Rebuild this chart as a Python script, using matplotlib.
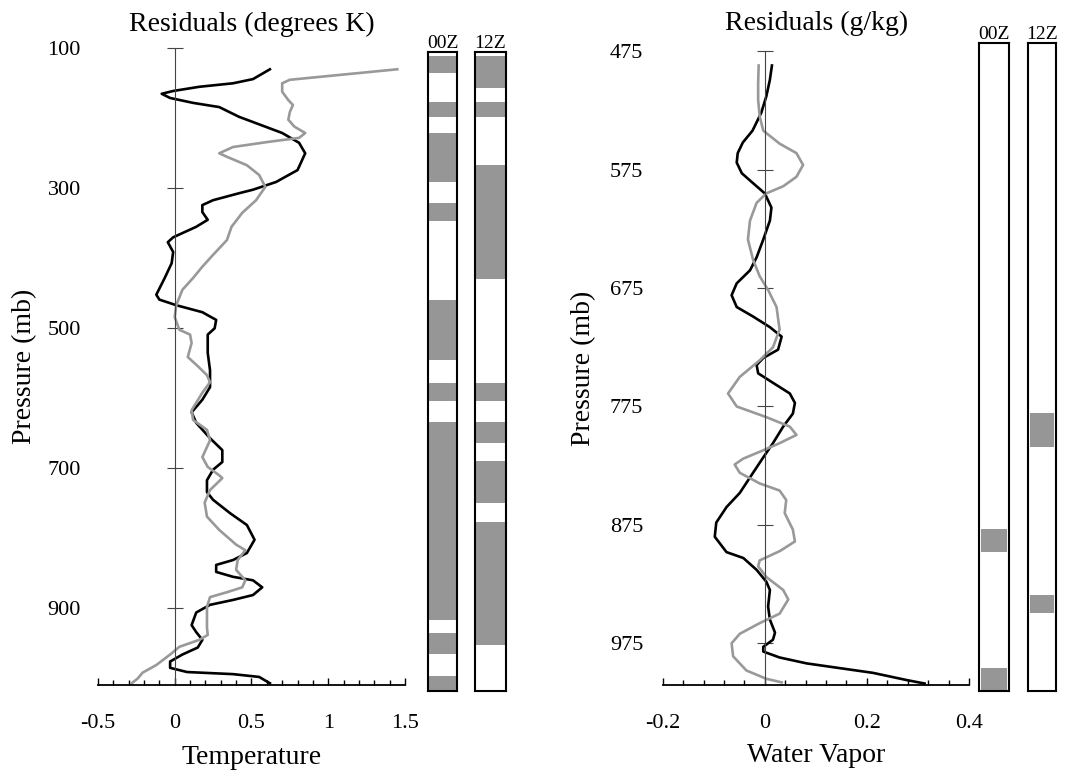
import matplotlib
matplotlib.use('Agg')
import matplotlib.pyplot as plt
from matplotlib.ticker import MultipleLocator, FuncFormatter

plt.rcParams['font.family'] = ['Liberation Serif', 'DejaVu Serif']
plt.rcParams['axes.unicode_minus'] = False

# temperature residual profiles (x = residual K, p = pressure mb)
t_black_x = [0.62, 0.51, 0.38, 0.16, -0.01, -0.085, -0.03, 0.12, 0.29, 0.42, 0.53, 0.70, 0.81, 0.85, 0.80,
             0.66, 0.51, 0.42, 0.25, 0.18, 0.18, 0.215, 0.14, -0.01, -0.045, -0.01, -0.02, -0.065, -0.12, -0.10,
             0.01, 0.18, 0.27, 0.26, 0.215, 0.215, 0.23, 0.23, 0.18, 0.11, 0.14, 0.23, 0.31, 0.31, 0.25,
             0.21, 0.21, 0.25, 0.36, 0.47, 0.52, 0.47, 0.38, 0.27, 0.27, 0.38, 0.51, 0.57, 0.51, 0.38,
             0.23, 0.14, 0.11, 0.14, 0.18, 0.15, 0.05, -0.03, -0.03, 0.08, 0.38, 0.55, 0.62]
t_black_p = [131, 145, 151, 156, 162, 166, 172, 179, 185, 199, 208, 222, 236, 251, 275,
             292, 303, 308, 318, 325, 335, 346, 356, 371, 378, 392, 408, 429, 453, 460,
             468, 478, 489, 501, 510, 536, 561, 585, 603, 621, 636, 658, 675, 692, 703,
             718, 735, 746, 765, 782, 803, 822, 832, 839, 849, 856, 861, 871, 882, 889,
             896, 907, 925, 935, 946, 957, 967, 977, 986, 992, 995, 999, 1008]

t_gray_x = [1.45, 0.75, 0.70, 0.70, 0.74, 0.77, 0.75, 0.74, 0.78, 0.85, 0.81, 0.60, 0.38, 0.29, 0.34,
            0.47, 0.55, 0.59, 0.53, 0.44, 0.37, 0.34, 0.25, 0.18, 0.12, 0.05, 0.01, 0.0, 0.03, 0.10,
            0.11, 0.085, 0.15, 0.21, 0.23, 0.18, 0.11, 0.12, 0.21, 0.23, 0.18, 0.215, 0.29, 0.31, 0.23,
            0.195, 0.21, 0.29, 0.40, 0.46, 0.41, 0.40, 0.46, 0.44, 0.34, 0.23, 0.21, 0.21, 0.215, 0.16,
            0.03, -0.03, -0.12, -0.21, -0.24, -0.28]
t_gray_p = [131, 146, 151, 163, 175, 182, 192, 203, 213, 222, 229, 235, 242, 251, 256,
            268, 282, 299, 318, 336, 356, 375, 396, 413, 429, 446, 468, 485, 503, 510,
            522, 542, 555, 568, 578, 593, 618, 632, 646, 661, 685, 699, 711, 715, 732,
            750, 770, 789, 810, 818, 832, 846, 861, 871, 878, 885, 899, 928, 939, 946,
            956, 967, 982, 993, 1001, 1008]

# water vapour residual profiles (x = residual g/kg, p = pressure mb)
q_black_x = [0.014, 0.010, 0.003, -0.007, -0.024, -0.043, -0.053, -0.055, -0.045, -0.024, 0.0, 0.013, 0.010,
             -0.003, -0.016, -0.029, -0.055, -0.065, -0.055, -0.023, 0.010, 0.033, 0.026, -0.003, -0.016,
             -0.013, 0.016, 0.049, 0.059, 0.055, 0.036, 0.016, -0.003, -0.023, -0.049, -0.075, -0.095,
             -0.098, -0.075, -0.042, -0.016, 0.003, 0.010, 0.0065, 0.010, 0.020, 0.016, -0.003, -0.003,
             0.029, 0.082, 0.147, 0.212, 0.277, 0.313]
q_black_p = [487, 499, 513, 527, 542, 552, 561, 569, 578, 586, 595, 607, 618,
             634, 649, 660, 671, 681, 691, 699, 708, 716, 727, 734, 740,
             747, 755, 764, 772, 781, 792, 806, 818, 831, 848, 860, 873,
             885, 898, 903, 913, 923, 930, 944, 955, 966, 972, 978, 982,
             987, 992, 996, 1000, 1006, 1009]

q_gray_x = [-0.012, -0.013, -0.013, -0.010, -0.003, 0.029, 0.062, 0.075, 0.062, 0.036, 0.003, -0.016, -0.029,
            -0.033, -0.023, -0.010, 0.007, 0.023, 0.029, 0.016, -0.010, -0.049, -0.072, -0.055, 0.003,
            0.049, 0.062, 0.029, -0.003, -0.042, -0.059, -0.049, -0.010, 0.029, 0.042, 0.039, 0.055,
            0.059, 0.030, -0.010, -0.013, 0.003, 0.036, 0.046, 0.029, -0.010, -0.049, -0.065, -0.062,
            -0.036, 0.003, 0.033]
q_gray_p = [487, 502, 516, 530, 542, 553, 561, 571, 581, 589, 595, 603, 618,
            634, 651, 665, 677, 691, 710, 725, 736, 750, 764, 775, 784,
            792, 799, 806, 812, 819, 824, 831, 840, 846, 854, 865, 879,
            889, 897, 905, 910, 919, 930, 938, 950, 958, 967, 975, 986,
            998, 1005, 1008]

# shaded pressure ranges of the 00Z / 12Z columns
temp_00z = [(111, 136), (178, 199), (222, 292), (322, 348), (461, 546), (579, 605), (635, 918), (936, 966), (998, 1019)]
temp_12z = [(111, 158), (178, 199), (268, 431), (579, 605), (635, 665), (691, 751), (778, 953)]
vap_00z = [(878, 898), (996, 1015)]
vap_12z = [(780, 809), (934, 949)]

temp_yticks = [100, 300, 500, 700, 900]
vap_yticks = [475, 575, 675, 775, 875, 975]

fig = plt.figure(figsize=(10.91, 7.75), dpi=100)


def fmt(v, pos):
    return '%g' % (round(v, 3) + 0.0)


def profile_axes(rect, xlim, ylim, yticks, xmajor, xminor, ypad, ylab_x, xlab_xy):
    ax = fig.add_axes(rect)
    ax.set_xlim(*xlim)
    ax.set_ylim(*ylim)
    ax.spines['top'].set_visible(False)
    ax.spines['right'].set_visible(False)
    ax.spines['left'].set_position(('data', 0))
    ax.spines['left'].set_linewidth(0.8)
    ax.spines['left'].set_color('#444444')
    ax.spines['bottom'].set_linewidth(1.3)
    ax.set_yticks(yticks)
    ax.tick_params(axis='y', direction='inout', length=11, width=0.8, color='#444444',
                   labelcolor='black', pad=ypad, labelsize=16)
    ax.xaxis.set_major_locator(MultipleLocator(xmajor))
    ax.xaxis.set_minor_locator(MultipleLocator(xminor))
    ax.xaxis.set_major_formatter(FuncFormatter(fmt))
    ax.tick_params(axis='x', which='major', direction='in', length=5, width=1, pad=21, labelsize=16)
    ax.tick_params(axis='x', which='minor', direction='in', length=3.5, width=1)
    ax.set_ylabel('Pressure (mb)', fontsize=20, va='center')
    ax.yaxis.set_label_coords(ylab_x, 0.5)
    ax.xaxis.set_label_coords(*xlab_xy)
    return ax


def bar_axes(rect, ylim, spans, inset):
    ax = fig.add_axes(rect)
    ax.set_xlim(0, 1)
    ax.set_ylim(*ylim)
    ax.set_xticks([])
    ax.set_yticks([])
    for s in ax.spines.values():
        s.set_linewidth(1.5)
    for a, b in spans:
        ax.axhspan(a, b, xmin=inset, xmax=1 - inset, color='#969696', lw=0)
    return ax


# temperature panel
ax1 = profile_axes([0.0898, 0.1166, 0.2814, 0.822], (-0.5, 1.5), (1010, 100), temp_yticks,
                   0.5, 0.1, 62, -0.238, (0.508, -0.1137))
ax1.plot(t_black_x, t_black_p, color='black', lw=1.9, solid_joinstyle='round')
ax1.plot(t_gray_x, t_gray_p, color='#999999', lw=1.9, solid_joinstyle='round')
ax1.set_xlabel('Temperature', fontsize=20, va='center')
fig.text(0.2305, 0.969, 'Residuals (degrees K)', fontsize=20, ha='center', va='center')

b1 = bar_axes([0.3923, 0.1084, 0.0266, 0.8245], (1019, 106), temp_00z, 0.0)
b1.set_title('00Z', fontsize=14, pad=1)
b2 = bar_axes([0.4354, 0.1084, 0.0284, 0.8245], (1019, 106), temp_12z, 0.0)
b2.set_title('12Z', fontsize=14, pad=1)

# water vapour panel
ax2 = profile_axes([0.6074, 0.1165, 0.2808, 0.8173], (-0.2, 0.4), (1010, 475), vap_yticks,
                   0.2, 0.04, 82, -0.257, (0.489, -0.111))
ax2.plot(q_black_x, q_black_p, color='black', lw=1.9, solid_joinstyle='round')
ax2.plot(q_gray_x, q_gray_p, color='#999999', lw=1.9, solid_joinstyle='round')
ax2.set_xlabel('Water Vapor', fontsize=20, va='center')
fig.text(0.748, 0.970, 'Residuals (g/kg)', fontsize=20, ha='center', va='center')

b3 = bar_axes([0.8973, 0.1088, 0.0275, 0.8353], (1015, 468), vap_00z, 0.08)
b3.set_title('00Z', fontsize=14, pad=1)
b4 = bar_axes([0.9423, 0.1088, 0.0257, 0.8353], (1015, 468), vap_12z, 0.08)
b4.set_title('12Z', fontsize=14, pad=1)

plt.savefig('out.png', dpi=100)
